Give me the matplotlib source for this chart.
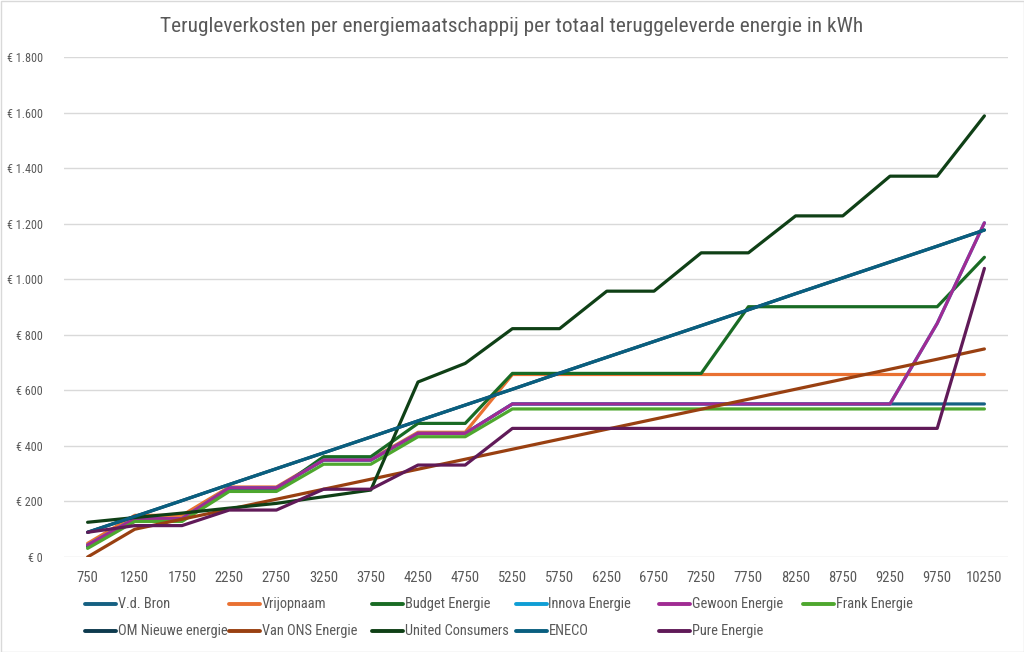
import matplotlib
matplotlib.use("Agg")
import matplotlib.pyplot as plt
from matplotlib import font_manager
from matplotlib.font_manager import FontProperties
from matplotlib.lines import Line2D
from matplotlib.patches import Rectangle
from matplotlib.ticker import FuncFormatter, MultipleLocator

# ---------------- data ----------------
categories = ["750", "1250", "1750", "2250", "2750", "3250", "3750", "4250", "4750",
              "5250", "5750", "6250", "6750", "7250", "7750", "8250", "8750", "9250",
              "9750", "10250"]

vd_bron = [43, 138, 138, 249, 249, 349, 349, 445, 445, 551, 551, 551, 551, 551, 551,
           551, 551, 551, 551, 551]
vrijopnaam = [49, 150, 150, 252, 252, 352, 352, 449, 449, 657, 657, 657, 657, 657, 657,
              657, 657, 657, 657, 657]
budget_energie = [37, 131, 131, 241, 241, 361, 361, 481, 481, 661, 661, 661, 661, 661,
                  901, 901, 901, 901, 901, 1079]
innova_energie = [43, 138, 138, 249, 249, 349, 349, 445, 445, 551, 551, 551, 551, 551,
                  551, 551, 551, 551, 841, 1203]
gewoon_energie = [43, 138, 138, 249, 249, 349, 349, 445, 445, 551, 551, 551, 551, 551,
                  551, 551, 551, 551, 841, 1203]
frank_energie = [31, 128, 128, 236, 236, 334, 334, 433, 433, 533, 533, 533, 533, 533,
                 533, 533, 533, 533, 533, 533]
om_nieuwe_energie = [89, 146, 203, 261, 318, 375, 432, 490, 547, 604, 662, 719, 776, 833,
                     890, 948, 1005, 1062, 1119, 1177]
van_ons_energie = [0, 100, 136, 172, 208, 244, 280, 316, 352, 388, 424, 460, 496, 532,
                   568, 604, 640, 676, 712, 749]
united_consumers = [125, 142, 158, 176, 193, 217, 241, 630, 697, 822, 822, 957, 957, 1095,
                    1095, 1228, 1228, 1371, 1371, 1588]
eneco = [89, 146, 203, 261, 318, 375, 432, 490, 547, 604, 662, 719, 776, 833, 890, 948,
         1005, 1062, 1119, 1177]
pure_energie = [89, 113, 113, 169, 169, 244, 244, 331, 331, 463, 463, 463, 463, 463, 463,
                463, 463, 463, 463, 1039]

series_names = ["V.d. Bron", "Vrijopnaam", "Budget Energie", "Innova Energie",
                "Gewoon Energie", "Frank Energie", "OM Nieuwe energie", "Van ONS Energie",
                "United Consumers", "ENECO", "Pure Energie"]
series_values = [vd_bron, vrijopnaam, budget_energie, innova_energie, gewoon_energie,
                 frank_energie, om_nieuwe_energie, van_ons_energie, united_consumers,
                 eneco, pure_energie]
series_colors = ["#156082", "#E97132", "#196B24", "#0F9ED5", "#A02B93", "#4EA72E",
                 "#0D3A4E", "#994011", "#0F4016", "#095F80", "#601A58"]

title = "Terugleverkosten per energiemaatschappij per totaal teruggeleverde energie in kWh"


# ---------------- font: look for a narrow sans ----------------
def pick_font():
    fl = font_manager.fontManager.ttflist
    def regular(f):
        return f.style == "normal" and f.weight in (400, "normal", "regular")
    for want in ["Liberation Sans Narrow", "Roboto Condensed", "Open Sans Condensed",
                 "Noto Sans Condensed"]:
        for f in fl:
            if f.name == want and regular(f):
                return f.fname
    for f in fl:
        if f.name == "DejaVu Sans" and "condensed" in str(f.stretch).lower() and regular(f):
            return f.fname
    for f in fl:
        if ("Condensed" in f.name or "Narrow" in f.name) and regular(f):
            return f.fname
    return None


FNAME = pick_font()


def fp(size):
    if FNAME:
        return FontProperties(fname=FNAME, size=size)
    return FontProperties(family="Roboto", size=size)


TXT = "#595959"
GRID = "#D9D9D9"

W, H = 1024, 652
fig = plt.figure(figsize=(W / 100, H / 100), dpi=100)
fig.patch.set_facecolor("white")

left, right, top, bottom = 64, 1008, 57, 557
ax = fig.add_axes([left / W, 1 - bottom / H, (right - left) / W, (bottom - top) / H])

x = list(range(len(categories)))
for name, vals, col in zip(series_names, series_values, series_colors):
    ax.plot(x, vals, color=col, lw=2.3, solid_capstyle="round", solid_joinstyle="round",
            label=name)

ax.set_xlim(-0.5, len(categories) - 0.5)
ax.set_ylim(0, 1800)
ax.yaxis.set_major_locator(MultipleLocator(200))
ax.yaxis.set_major_formatter(FuncFormatter(lambda v, p: "€ " + f"{int(v):,}".replace(",", ".")))
ax.set_xticks(x)
ax.set_xticklabels(categories)
ax.grid(axis="y", color=GRID, lw=1.0)
ax.set_axisbelow(True)
for s in ax.spines.values():
    s.set_visible(False)
ax.tick_params(axis="both", length=0, colors=TXT)
ax.tick_params(axis="x", pad=10)
ax.tick_params(axis="y", pad=15)
for lab in ax.get_xticklabels():
    lab.set_fontproperties(fp(10.5))
    lab.set_color(TXT)
for lab in ax.get_yticklabels():
    lab.set_fontproperties(fp(8.7))
    lab.set_color(TXT)

fig.text(0.5, 1 - 26 / H, title, ha="center", va="center", color=TXT,
         fontproperties=fp(15.4))

# ---------------- legend (Excel style fixed columns) ----------------
col_x0, col_w = 85, 143.5
row_y = [604, 631]
for i, (name, col) in enumerate(zip(series_names, series_colors)):
    r, c = divmod(i, 6)
    x0 = col_x0 + c * col_w
    y0 = 1 - row_y[r] / H
    fig.add_artist(Line2D([x0 / W, (x0 + 31) / W], [y0, y0], transform=fig.transFigure,
                          color=col, lw=2.8, solid_capstyle="round"))
    fig.text((x0 + 33) / W, y0, name, ha="left", va="center", color=TXT,
             fontproperties=fp(10.4))

fig.add_artist(Rectangle((0.5 / W, 0.5 / H), 1 - 1 / W, 1 - 1 / H, transform=fig.transFigure,
                         fill=False, edgecolor=GRID, lw=1.0))

fig.savefig("out.png", dpi=100)
